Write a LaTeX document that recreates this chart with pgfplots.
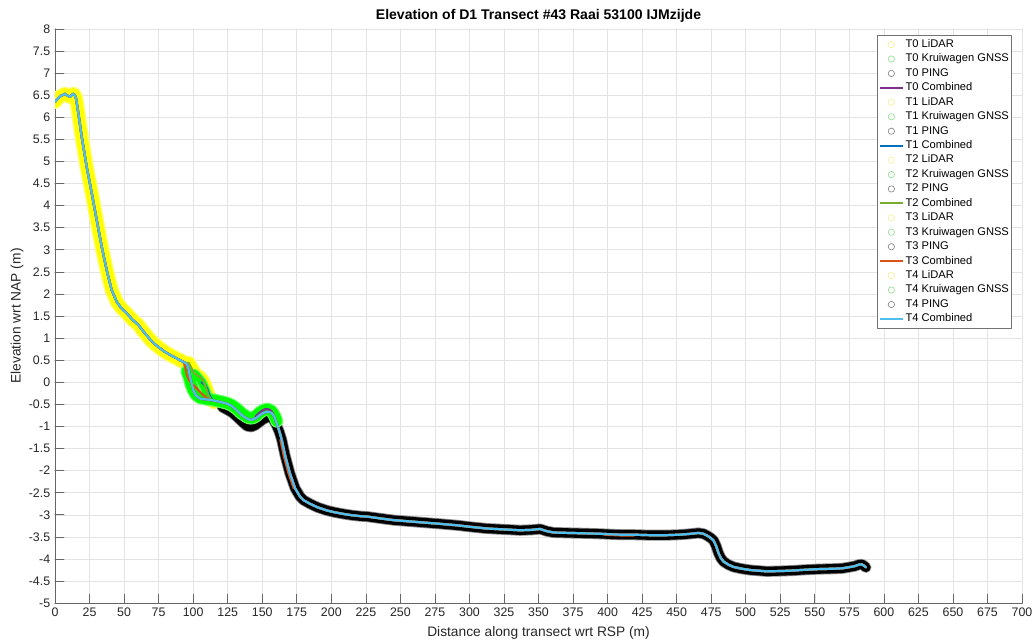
\documentclass[border=0pt]{standalone}
\usepackage{pgfplots}
\pgfplotsset{compat=1.18}
\usepackage{pgfplotstable}
\usepackage{fontspec}
\setmainfont{Liberation Sans}
\definecolor{mpurple}{rgb}{0.494,0.184,0.556}
\definecolor{mblue}{rgb}{0,0.447,0.741}
\definecolor{mgreen}{rgb}{0.466,0.674,0.188}
\definecolor{morange}{rgb}{0.85,0.325,0.098}
\definecolor{mcyan}{rgb}{0.301,0.745,0.933}
\definecolor{axgray}{rgb}{0.15,0.15,0.15}
\definecolor{lidar}{rgb}{1,1,0}
\definecolor{gnss}{rgb}{0,1,0}
\definecolor{lidarleg}{RGB}{245,240,150}
\definecolor{gnssleg}{RGB}{140,225,140}
\definecolor{pingleg}{RGB}{130,130,130}

% T4 combined (main profile)
\pgfplotstableread{
x y
0 6.35
2 6.42
3.6 6.47
5.5 6.50
7.2 6.53
9 6.49
10.9 6.46
12 6.50
13.3 6.53
14.3 6.50
15.2 6.43
16.9 6.09
19.3 5.56
22.9 4.88
26.6 4.28
30.2 3.67
33.8 3.07
37.4 2.54
41.0 2.09
44.7 1.82
48 1.68
51.9 1.56
56 1.42
60.3 1.30
64 1.15
68.8 0.97
72 0.87
76 0.77
80 0.68
83.3 0.62
87 0.56
90.5 0.50
93 0.46
95 0.43
96.5 0.33
98 0.10
100 -0.17
102 -0.30
105 -0.37
110 -0.39
114.6 -0.41
119 -0.44
124.3 -0.48
128 -0.54
131.6 -0.63
135 -0.74
138.8 -0.82
141 -0.85
143.6 -0.84
146 -0.80
148.4 -0.74
151 -0.69
153.3 -0.67
155 -0.67
156.9 -0.70
158.8 -0.78
160.5 -0.93
162.3 -1.10
164.1 -1.30
166.5 -1.65
170 -2.06
173.8 -2.40
177.4 -2.59
180 -2.67
184.6 -2.75
190 -2.83
196.7 -2.90
202 -2.94
208.8 -2.98
215 -3.01
220.9 -3.03
226 -3.04
232.9 -3.07
240 -3.10
245 -3.12
257 -3.15
269 -3.18
281 -3.21
292 -3.24
300 -3.27
312.6 -3.31
325 -3.33
336.7 -3.35
345 -3.34
351 -3.32
356 -3.37
360.8 -3.40
372 -3.41
385 -3.42
395 -3.43
409 -3.45
419 -3.45
430 -3.46
443 -3.46
452 -3.45
460 -3.43
465.8 -3.41
469.5 -3.43
472 -3.47
474.5 -3.52
476.7 -3.58
478.5 -3.70
480.3 -3.87
482 -3.98
484 -4.06
487.5 -4.13
491.2 -4.18
497 -4.22
503.3 -4.25
515.3 -4.28
527.4 -4.27
535 -4.26
539.5 -4.25
551.5 -4.23
563.6 -4.22
570 -4.21
575.7 -4.18
579 -4.16
581.7 -4.13
584 -4.12
585.5 -4.15
587 -4.19
}\tfour

% LiDAR points (dense band)
\pgfplotstableread{
x y
0 6.35
2 6.42
3.6 6.47
5.5 6.50
7.2 6.53
9 6.49
10.9 6.46
12 6.50
13.3 6.53
14.3 6.50
15.2 6.43
16.9 6.09
19.3 5.56
22.9 4.88
26.6 4.28
30.2 3.67
33.8 3.07
37.4 2.54
41.0 2.09
44.7 1.82
48 1.68
51.9 1.56
56 1.42
60.3 1.30
64 1.15
68.8 0.97
72 0.87
76 0.77
80 0.68
83.3 0.62
87 0.56
90.5 0.50
93 0.46
95.4 0.44
97 0.43
99 0.32
101 0.22
103 0.15
105 0.11
107 0.04
109 -0.10
111 -0.28
113 -0.40
115.5 -0.45
}\lidarA
\pgfplotstableread{
x y
95 0.43
96.5 0.33
98 0.10
99.5 -0.08
}\lidarB

% Kruiwagen GNSS points
\pgfplotstableread{
x y
95.5 0.25
97 0.12
98.5 -0.05
100 -0.17
102 -0.28
105 -0.35
110 -0.38
114.6 -0.40
119 -0.43
124.3 -0.47
128 -0.52
131.6 -0.60
135 -0.70
138.8 -0.78
141 -0.81
143.6 -0.80
146 -0.75
148.4 -0.68
151 -0.63
153.3 -0.61
155 -0.62
157 -0.66
159 -0.76
160.5 -0.88
}\gnssA
\pgfplotstableread{
x y
101 0.20
104 0.10
106.5 0.00
108.5 -0.14
110.5 -0.30
}\gnssB

% PING points
\pgfplotstableread{
x y
121 -0.56
124 -0.61
128 -0.68
132 -0.79
136 -0.91
139 -0.99
142 -1.01
145 -0.97
148 -0.90
151 -0.83
154 -0.79
157 -0.79
160 -0.95
162.3 -1.12
164.1 -1.30
166.5 -1.65
170 -2.06
173.8 -2.40
177.4 -2.59
180 -2.67
184.6 -2.75
190 -2.83
196.7 -2.90
202 -2.94
208.8 -2.98
215 -3.01
220.9 -3.03
226 -3.04
232.9 -3.07
240 -3.10
245 -3.12
257 -3.15
269 -3.18
281 -3.21
292 -3.24
300 -3.27
312.6 -3.31
325 -3.33
336.7 -3.35
345 -3.34
351 -3.32
356 -3.37
360.8 -3.40
372 -3.41
385 -3.42
395 -3.43
409 -3.45
419 -3.45
430 -3.46
443 -3.46
452 -3.45
460 -3.43
465.8 -3.41
469.5 -3.43
472 -3.47
474.5 -3.52
476.7 -3.58
478.5 -3.70
480.3 -3.87
482 -3.98
484 -4.06
487.5 -4.13
491.2 -4.18
497 -4.22
503.3 -4.25
515.3 -4.28
527.4 -4.27
535 -4.26
539.5 -4.25
551.5 -4.23
563.6 -4.22
570 -4.21
575.7 -4.18
579 -4.16
581.7 -4.13
584 -4.12
585.5 -4.15
587 -4.19
}\ping

% Combined T0..T3 where they differ from T4
\pgfplotstableread{
x y
145 -0.78
147 -0.72
149.6 -0.65
152 -0.61
154.5 -0.61
156.5 -0.65
158 -0.72
}\tzero
\pgfplotstableread{
x y
106 0.00
108 -0.05
109.8 -0.12
111.5 -0.27
113.5 -0.39
114.6 -0.41
}\tone
\pgfplotstableread{
x y
95.4 0.44
97 0.43
99 0.30
101 0.20
103 0.15
105 0.12
107 0.05
109 -0.10
111 -0.29
113 -0.40
114.6 -0.41
}\ttwo
\pgfplotstableread{
x y
93 0.46
94.1 0.36
95.4 0.16
97 0.05
99 -0.03
102.6 -0.14
105 -0.22
107.4 -0.29
110 -0.36
}\tthreeA
\pgfplotstableread{
x y
163.1 -1.30
165.5 -1.65
169 -2.06
172.8 -2.40
}\tthreeB
\pgfplotstableread{
x y
398 -3.45
405 -3.46
412 -3.47
419 -3.47
}\tthreeC

\begin{document}
\begin{tikzpicture}
\begin{axis}[
  scale only axis, width=703pt, height=417.5pt,
  xmin=0, xmax=700, ymin=-5, ymax=8,
  xtick distance=25, ytick distance=0.5,
  grid=major, major grid style={color=black!11, line width=0.45pt},
  axis x line*=bottom, axis y line*=left,
  axis line style={color=black!60, line width=0.5pt},
  tick style={color=black!60, line width=0.5pt},
  tick align=inside, major tick length=6.5pt,
  ticklabel style={font=\fontsize{9}{10}\selectfont, text=axgray},
  /pgf/number format/assume math mode=true,
  /pgf/number format/1000 sep={},
  yticklabel style={/pgf/number format/fixed, /pgf/number format/precision=1},
  title={\bfseries Elevation of D1 Transect \#43 Raai 53100 IJMzijde},
  title style={font=\fontsize{10.2}{12}\selectfont, text=black, yshift=-5pt},
  xlabel={Distance along transect wrt RSP (m)},
  ylabel={Elevation wrt NAP (m)},
  ylabel shift=-3pt,
  label style={font=\fontsize{10}{12}\selectfont, text=axgray},
  legend cell align=left,
  legend style={at={(1,1)}, anchor=north east, xshift=-7.3pt, yshift=-4.4pt,
    font=\fontsize{8.1}{9}\selectfont, draw=black!55, line width=0.45pt, fill=white,
    inner xsep=1pt, inner ysep=1.5pt,
    nodes={inner ysep=1.2pt, inner xsep=1pt, text height=6.1pt, text depth=2pt}},
  line cap=round, line join=round,
]
% LiDAR band
\addplot[forget plot, no markers, color=lidar!55!white, line width=10.5pt] table[x=x,y=y]{\lidarA};
\addplot[forget plot, no markers, color=lidar!55!white, line width=10.5pt] table[x=x,y=y]{\lidarB};
\addplot[forget plot, no markers, color=lidar, line width=8.5pt] table[x=x,y=y]{\lidarA};
\addplot[forget plot, no markers, color=lidar, line width=8.5pt] table[x=x,y=y]{\lidarB};
% PING band
\addplot[forget plot, no markers, color=black!45, line width=8pt] table[x=x,y=y]{\ping};
\addplot[forget plot, no markers, color=black, line width=6.8pt] table[x=x,y=y]{\ping};
% GNSS band
\addplot[forget plot, no markers, color=gnss!60!white, line width=9.5pt] table[x=x,y=y]{\gnssA};
\addplot[forget plot, no markers, color=gnss!60!white, line width=7pt] table[x=x,y=y]{\gnssB};
\addplot[forget plot, no markers, color=gnss, line width=7.8pt] table[x=x,y=y]{\gnssA};
\addplot[forget plot, no markers, color=gnss, line width=5.5pt] table[x=x,y=y]{\gnssB};
% Combined lines
\addplot[forget plot, no markers, color=mpurple, line width=1.6pt] table[x=x,y=y]{\tfour};
\addplot[forget plot, no markers, color=mpurple, line width=1.6pt] table[x=x,y=y]{\tzero};
\addplot[forget plot, no markers, color=mblue, line width=1.6pt] table[x=x,y=y]{\tfour};
\addplot[forget plot, no markers, color=mblue, line width=1.6pt] table[x=x,y=y]{\tone};
\addplot[forget plot, no markers, color=mgreen, line width=1.6pt] table[x=x,y=y]{\tfour};
\addplot[forget plot, no markers, color=mgreen, line width=1.6pt] table[x=x,y=y]{\ttwo};
\addplot[forget plot, no markers, color=morange, line width=1.6pt] table[x=x,y=y]{\tfour};
\addplot[forget plot, no markers, color=morange, line width=1.6pt] table[x=x,y=y]{\tthreeA};
\addplot[forget plot, no markers, color=morange, line width=1.6pt] table[x=x,y=y]{\tthreeB};
\addplot[forget plot, no markers, color=morange, line width=1.6pt] table[x=x,y=y]{\tthreeC};
\addplot[forget plot, no markers, color=mcyan, line width=1.6pt] table[x=x,y=y]{\tfour};
% Legend
\addlegendimage{only marks, mark=o, mark size=2.3pt, color=lidarleg}
\addlegendentry{T0 LiDAR}
\addlegendimage{only marks, mark=o, mark size=2.3pt, color=gnssleg}
\addlegendentry{T0 Kruiwagen GNSS}
\addlegendimage{only marks, mark=o, mark size=2.3pt, color=pingleg}
\addlegendentry{T0 PING}
\addlegendimage{no markers, color=mpurple, line width=1.5pt}
\addlegendentry{T0 Combined}
\addlegendimage{only marks, mark=o, mark size=2.3pt, color=lidarleg}
\addlegendentry{T1 LiDAR}
\addlegendimage{only marks, mark=o, mark size=2.3pt, color=gnssleg}
\addlegendentry{T1 Kruiwagen GNSS}
\addlegendimage{only marks, mark=o, mark size=2.3pt, color=pingleg}
\addlegendentry{T1 PING}
\addlegendimage{no markers, color=mblue, line width=1.5pt}
\addlegendentry{T1 Combined}
\addlegendimage{only marks, mark=o, mark size=2.3pt, color=lidarleg}
\addlegendentry{T2 LiDAR}
\addlegendimage{only marks, mark=o, mark size=2.3pt, color=gnssleg}
\addlegendentry{T2 Kruiwagen GNSS}
\addlegendimage{only marks, mark=o, mark size=2.3pt, color=pingleg}
\addlegendentry{T2 PING}
\addlegendimage{no markers, color=mgreen, line width=1.5pt}
\addlegendentry{T2 Combined}
\addlegendimage{only marks, mark=o, mark size=2.3pt, color=lidarleg}
\addlegendentry{T3 LiDAR}
\addlegendimage{only marks, mark=o, mark size=2.3pt, color=gnssleg}
\addlegendentry{T3 Kruiwagen GNSS}
\addlegendimage{only marks, mark=o, mark size=2.3pt, color=pingleg}
\addlegendentry{T3 PING}
\addlegendimage{no markers, color=morange, line width=1.5pt}
\addlegendentry{T3 Combined}
\addlegendimage{only marks, mark=o, mark size=2.3pt, color=lidarleg}
\addlegendentry{T4 LiDAR}
\addlegendimage{only marks, mark=o, mark size=2.3pt, color=gnssleg}
\addlegendentry{T4 Kruiwagen GNSS}
\addlegendimage{only marks, mark=o, mark size=2.3pt, color=pingleg}
\addlegendentry{T4 PING}
\addlegendimage{no markers, color=mcyan, line width=1.5pt}
\addlegendentry{T4 Combined}
\end{axis}
\pgfresetboundingbox
\path ([xshift=-40pt,yshift=-29pt]current axis.south west) rectangle ([xshift=8.7pt,yshift=21pt]current axis.north east);
\end{tikzpicture}
\end{document}
